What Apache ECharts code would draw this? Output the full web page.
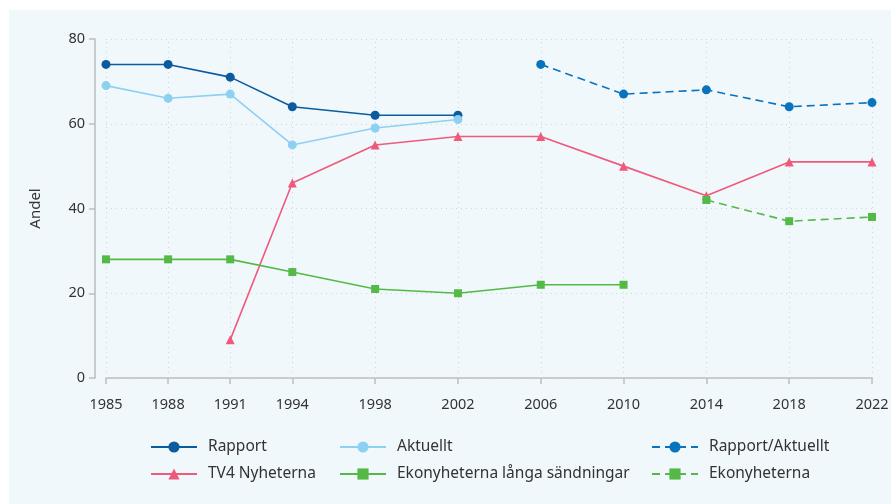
<!DOCTYPE html>
<html>
<head>
    <meta charset="utf-8">
    <script src="https://cdn.jsdelivr.net/npm/echarts@6/dist/echarts.min.js"></script>
    <style>
        html, body { margin: 0; padding: 0; background: #ffffff; }
        #main { width: 891px; height: 504px; }
    </style>
</head>
<body>
<div id="main"></div>
<script type="text/javascript">
    // år på x-axeln
    var years = [1985, 1988, 1991, 1994, 1998, 2002, 2006, 2010, 2014, 2018, 2022];

    var rapport        = [74, 74, 71, 64, 62, 62, null, null, null, null, null];
    var aktuellt       = [69, 66, 67, 55, 59, 61, null, null, null, null, null];
    var rapportAkt     = [null, null, null, null, null, null, 74, 67, 68, 64, 65];
    var tv4            = [null, null, 9, 46, 55, 57, 57, 50, 43, 51, 51];
    var ekoLanga       = [28, 28, 28, 25, 21, 20, 22, 22, null, null, null];
    var ekonyheterna   = [null, null, null, null, null, null, null, null, 42, 37, 38];

    function pairs(vals) {
        var out = [];
        for (var i = 0; i < years.length; i++) {
            if (vals[i] !== null) out.push([years[i], vals[i]]);
        }
        return out;
    }

    var font = 'Noto Sans';
    var textColor = '#333';
    var gridColor = '#cfd5db';

    function lineSeries(name, vals, color, symbol, size, dashed) {
        return {
            name: name, type: 'line', data: pairs(vals),
            symbol: symbol, symbolSize: size,
            itemStyle: { color: color },
            lineStyle: { color: color, width: 1.6, type: dashed ? [8, 5] : 'solid' },
            emphasis: { disabled: true },
            z: 5
        };
    }

    var legendBase = {
        orient: 'vertical', top: 434, itemGap: 11, itemWidth: 46, itemHeight: 14,
        textStyle: { fontFamily: font, fontSize: 15.5, color: textColor, padding: [0, 0, 0, 6] },
        selectedMode: false
    };

    // vertikala stödlinjer vid varje år
    var yearLines = [];
    for (var i = 0; i < years.length; i++) yearLines.push({ xAxis: years[i] });

    var myChart = echarts.init(document.getElementById('main'));
    myChart.setOption({
        animation: false,
        backgroundColor: '#ffffff',
        graphic: [{
            type: 'rect', left: 9, top: 10, z: -10,
            shape: { width: 882, height: 494 },
            style: { fill: '#f1f8fc' }
        }],
        grid: { left: 106, right: 19, top: 39, bottom: 126, outerBoundsMode: 'none' },
        legend: [
            Object.assign({}, legendBase, { left: 145, data: ['Rapport', 'TV4 Nyheterna'] }),
            Object.assign({}, legendBase, { left: 334, data: ['Aktuellt', 'Ekonyheterna långa sändningar'] }),
            Object.assign({}, legendBase, { left: 646, data: ['Rapport/Aktuellt', 'Ekonyheterna'] })
        ],
        xAxis: {
            type: 'value', min: 1985, max: 2022, offset: 11,
            axisLine: { show: true, lineStyle: { color: '#bdbdbd', width: 1.5 } },
            axisTick: { show: true, length: 6, customValues: years, lineStyle: { color: '#bdbdbd', width: 1.5 } },
            axisLabel: {
                customValues: years, margin: 8, fontFamily: font, fontSize: 14.5, color: textColor,
                formatter: function (v) { return String(v); }
            },
            splitLine: { show: false }
        },
        yAxis: {
            type: 'value', min: 0, max: 80, interval: 20, offset: 11,
            name: 'Andel', nameLocation: 'middle', nameGap: 52, nameRotate: 90,
            nameTextStyle: { fontFamily: font, fontSize: 15, color: textColor },
            axisLine: { show: true, lineStyle: { color: '#bdbdbd', width: 1.5 } },
            axisTick: { show: true, length: 6, lineStyle: { color: '#bdbdbd', width: 1.5 } },
            axisLabel: { margin: 10, fontFamily: font, fontSize: 14.5, color: textColor },
            splitLine: { show: true, lineStyle: { color: gridColor, type: [1, 4], width: 1 } }
        },
        series: [
            {
                name: 'grid', type: 'line', data: [], silent: true,
                markLine: {
                    silent: true, symbol: 'none', label: { show: false },
                    lineStyle: { color: gridColor, type: [1, 4], width: 1 },
                    emphasis: { disabled: true },
                    data: yearLines
                },
                z: 0
            },
            lineSeries('Rapport', rapport, '#0b5c9e', 'circle', 9, false),
            lineSeries('Aktuellt', aktuellt, '#8ed0f2', 'circle', 9, false),
            lineSeries('Rapport/Aktuellt', rapportAkt, '#0a73bd', 'circle', 9, true),
            lineSeries('TV4 Nyheterna', tv4, '#ee5b7a', 'triangle', 9, false),
            lineSeries('Ekonyheterna långa sändningar', ekoLanga, '#55b947', 'rect', 8, false),
            lineSeries('Ekonyheterna', ekonyheterna, '#55b947', 'rect', 8, true)
        ]
    });
</script>
</body>
</html>
